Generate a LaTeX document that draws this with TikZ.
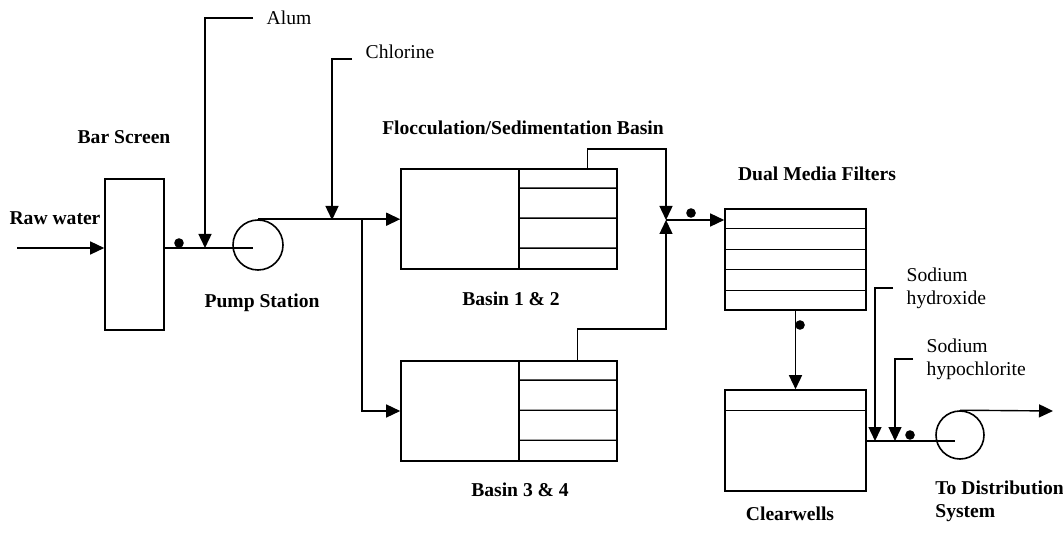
\documentclass[tikz,border=0pt]{standalone}
\usepackage{fontspec}
\setmainfont{Liberation Serif}
\usetikzlibrary{positioning,arrows.meta,calc}

\begin{document}
\begin{tikzpicture}[x=0.5pt,y=-0.5pt,line width=0.7pt,
    flow/.style={-{Triangle[length=7pt,width=6.5pt]}},
    unit/.style={draw,line width=0.8pt,inner sep=0pt},
    pump/.style={draw,circle,line width=0.8pt,inner sep=0pt,minimum size=25pt},
    title/.style={font=\fontsize{9.8}{11.5}\selectfont\bfseries,align=left},
    chem/.style={font=\fontsize{9.8}{11.5}\selectfont,align=left,inner xsep=6.5pt,inner ysep=0pt}]

\useasboundingbox (0,0) rectangle (1063,533);

% process units
\node[unit,minimum width=29.5pt,minimum height=75.5pt] (bar) at (134.5,254.5) {};
\node[pump] (pump1) at (258,245) {};
\node[unit,minimum width=108pt,minimum height=50pt] (basin1) at (509,219) {};
\node[unit,minimum width=108pt,minimum height=50pt] (basin2) at (509,411) {};
\node[unit,minimum width=70.5pt,minimum height=50.5pt] (filters) at (795.5,259.5) {};
\node[unit,minimum width=70.5pt,minimum height=50.5pt] (clearwells) at (795.5,440.5) {};
\node[pump,minimum size=24pt] (pump2) at (960,435) {};

% inner partitions
\foreach \b in {basin1,basin2}{
  \draw ($(\b.north west)!0.546!(\b.north east)$) coordinate (\b-div)
     -- ($(\b.south west)!0.546!(\b.south east)$);
  \foreach \dy in {20,50,80}
    \draw ($(\b-div)+(0,\dy)$) -- ($(\b.north east)+(0,\dy)$);
}
\foreach \f in {0.2,0.4,0.6,0.8}
  \draw ($(filters.north west)!\f!(filters.south west)$) -- ($(filters.north east)!\f!(filters.south east)$);
\draw ($(clearwells.north west)+(0,21)$) -- ($(clearwells.north east)+(0,21)$);

% labels
\node[title] (rawlbl) at (55,218) {Raw water};
\node[title] (barlbl) at (124,137) {Bar Screen};
\node[title] (pumplbl) at (262,303) {Pump Station};
\node[title] (flocclbl) at (523,128) {Flocculation/Sedimentation Basin};
\node[title] (b12lbl) at (511,299) {Basin 1 \& 2};
\node[title] (b34lbl) at (520,490) {Basin 3 \& 4};
\node[title] (dmflbl) at (817,174) {Dual Media Filters};
\node[title] (cwlbl) at (790,514) {Clearwells};
\node[title,anchor=west] (distlbl) at (928,501) {To Distribution\\System};

% chemical feeds
\node[chem,anchor=west] (alum) at (253,18) {Alum};
\node[chem,anchor=base west] (chlorine) at (352,59) {Chlorine};
\node[chem,anchor=west] (naoh) at (893,288) {Sodium\\hydroxide};
\node[chem,anchor=west] (naocl) at (913,359) {Sodium\\hypochlorite};

% points on the lines
\coordinate (rawin) at (17,248);
\coordinate (pump1in) at (253,248);
\coordinate (alumin) at (205,248);
\coordinate (clin) at (332,220);
\coordinate (split) at (362,220);
\coordinate (junc) at (666,220);
\coordinate (pump2in) at (955,441);
\coordinate (naohin) at (875,441);
\coordinate (naoclin) at (895,441);
\coordinate (dist) at (1053,411);

% flow lines
\draw[flow] (rawin) -- (rawin -| bar.west);
\draw (pump1in -| bar.east) -- (pump1in);
\draw[flow] (alum.west) -| (alumin);
\draw[flow] (pump1.north) -- (pump1.north -| basin1.west);
\draw[flow] (chlorine.base west) -| (clin);
\draw[flow] (split) |- (basin2.west);
\draw[flow] ($(basin1.north west)+(187,0)$) -- ++(0,-19) -| (junc);
\draw[flow] ($(basin2.north west)+(177,0)$) -- ++(0,-31) -| (junc);
\draw[flow] (junc) -- (junc -| filters.west);
\draw[flow] (filters.south) -- (clearwells.north);
\draw (pump2in -| clearwells.east) -- (pump2in);
\draw[flow] (naoh.west) -| (naohin);
\draw[flow] (naocl.west) -| (naoclin);
\draw[flow] (pump2.north) -- (dist);

% sampling points
\foreach \p in {(179,243),(691,213),(800,325),(910,435)}
  \fill \p circle (2.4pt);
\end{tikzpicture}
\end{document}
